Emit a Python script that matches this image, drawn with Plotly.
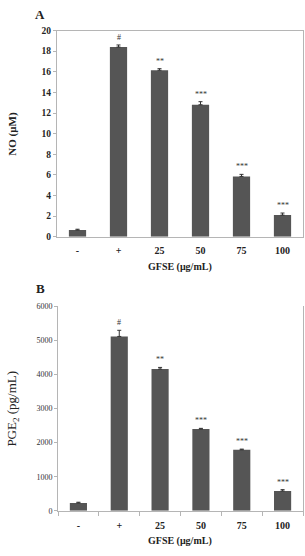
import plotly.graph_objects as go

categories = ["-", "+", "25", "50", "75", "100"]
no_values = [0.65, 18.4, 16.15, 12.8, 5.85, 2.1]
no_errors = [0.08, 0.2, 0.15, 0.3, 0.2, 0.2]
no_marks = ["", "#", "**", "***", "***", "***"]
pge_values = [230, 5120, 4160, 2400, 1790, 580]
pge_errors = [20, 180, 50, 20, 20, 40]
pge_marks = ["", "#", "**", "***", "***", "***"]

W, H = 305, 556
SERIF = "Liberation Serif, Times New Roman, serif"
BAR = "#555555"
AXC = "#b5b5b5"

fig = go.Figure()
fig.add_trace(go.Bar(x=categories, y=no_values, marker=dict(color=BAR, line=dict(width=0)),
                     error_y=dict(type="data", array=no_errors, arrayminus=[0]*6, symmetric=False,
                                  color="#333333", thickness=1, width=2),
                     xaxis="x", yaxis="y", showlegend=False))
fig.add_trace(go.Bar(x=categories, y=pge_values, marker=dict(color=BAR, line=dict(width=0)),
                     error_y=dict(type="data", array=pge_errors, arrayminus=[0]*6, symmetric=False,
                                  color="#333333", thickness=1, width=2),
                     xaxis="x2", yaxis="y2", showlegend=False))

def px(x): return x / W
def py(y): return 1 - y / H

ann = []
for i, (v, e, m) in enumerate(zip(no_values, no_errors, no_marks)):
    if m:
        ann.append(dict(x=i, y=v + e, xref="x", yref="y", text=m, showarrow=False,
                        yanchor="bottom", yshift=1, font=dict(family=SERIF, size=8, color="#333")))
for i, (v, e, m) in enumerate(zip(pge_values, pge_errors, pge_marks)):
    if m:
        ann.append(dict(x=i, y=v + e, xref="x2", yref="y2", text=m, showarrow=False,
                        yanchor="bottom", yshift=1, font=dict(family=SERIF, size=8, color="#333")))

ann += [
    dict(x=px(40), y=py(10), xref="paper", yref="paper", text="<b>A</b>", showarrow=False,
         xanchor="center", yanchor="middle", font=dict(family=SERIF, size=13, color="#222")),
    dict(x=px(40), y=py(289), xref="paper", yref="paper", text="<b>B</b>", showarrow=False,
         xanchor="center", yanchor="middle", font=dict(family=SERIF, size=13, color="#222")),
    dict(x=px(180), y=py(267), xref="paper", yref="paper", text="<b>GFSE (μg/mL)</b>", showarrow=False,
         xanchor="center", yanchor="middle", font=dict(family=SERIF, size=10, color="#222")),
    dict(x=px(180), y=py(546), xref="paper", yref="paper", text="<b>GFSE (μg/mL)</b>", showarrow=False,
         xanchor="center", yanchor="middle", font=dict(family=SERIF, size=10, color="#222")),
    dict(x=px(13), y=py(131), xref="paper", yref="paper", text="<b>NO (μM)</b>", showarrow=False,
         textangle=-90, xanchor="center", yanchor="middle", font=dict(family=SERIF, size=11, color="#222")),
    dict(x=px(13), y=py(411), xref="paper", yref="paper", text="PGE<sub>2</sub> (pg/mL)", showarrow=False,
         textangle=-90, xanchor="center", yanchor="middle", font=dict(family=SERIF, size=13, color="#222")),
]

fig.update_layout(
    width=W, height=H, margin=dict(l=0, r=0, t=0, b=0),
    paper_bgcolor="white", plot_bgcolor="white", bargap=0.58,
    annotations=ann,
    xaxis=dict(type="category", range=[-0.5, 5.5], domain=[px(57), px(303)], anchor="y", showline=True,
               linecolor=AXC, linewidth=1, mirror=True, ticks="", showgrid=False, ticklabelstandoff=4,
               tickfont=dict(family=SERIF, size=10, color="#222"), tickprefix="<b>", ticksuffix="</b>"),
    yaxis=dict(domain=[py(236), py(26)], anchor="x", range=[0, 20], dtick=2, showline=True,
               linecolor=AXC, linewidth=1, mirror=True, ticks="outside", ticklen=3, tickcolor=AXC,
               showgrid=False, zeroline=False,
               tickfont=dict(family=SERIF, size=9.5, color="#222"), tickprefix="<b>", ticksuffix="</b>"),
    xaxis2=dict(type="category", range=[-0.5, 5.5], domain=[px(58), px(303)], anchor="y2", showline=True,
                linecolor=AXC, linewidth=1, ticks="outside", ticklen=4, tickcolor=AXC, tickson="boundaries",
                showgrid=False, ticklabelstandoff=5,
                tickfont=dict(family=SERIF, size=10, color="#222"), tickprefix="<b>", ticksuffix="</b>"),
    yaxis2=dict(domain=[py(515), py(307)], anchor="x2", range=[0, 6000], dtick=1000, showline=True,
                linecolor=AXC, linewidth=1, mirror=True, ticks="outside", ticklen=3, tickcolor=AXC,
                showgrid=False, zeroline=False,
                tickfont=dict(family=SERIF, size=8, color="#333")),
)

fig.write_html("out.html")
